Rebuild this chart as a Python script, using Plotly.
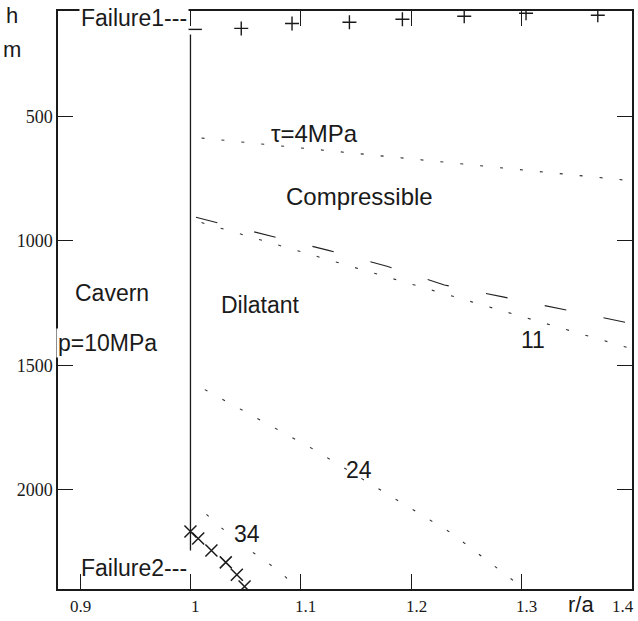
import plotly.graph_objects as go

# ---- data ----
r_tau = [1.01, 1.10, 1.20, 1.30, 1.40]
h_tau = [586, 626, 670, 714, 758]

r_bound = [1.005, 1.07, 1.125, 1.178, 1.23, 1.283, 1.337, 1.40]
h_bound = [905, 978, 1038, 1102, 1177, 1225, 1275, 1333]

r_11 = [1.01, 1.10, 1.20, 1.30, 1.40]
h_11 = [926, 1043, 1173, 1304, 1434]

r_24 = [1.013, 1.063, 1.111, 1.189, 1.236, 1.301]
h_24 = [1598, 1719, 1837, 2047, 2174, 2395]

r_34 = [1.0145, 1.028, 1.057, 1.072, 1.087, 1.091]
h_34 = [2100, 2154, 2254, 2301, 2355, 2395]

r_fail1 = [1.004, 1.046, 1.092, 1.144, 1.192, 1.248, 1.304, 1.369]
h_fail1 = [149, 145, 125, 120, 108, 96, 84, 92]

r_fail2 = [1.0, 1.007, 1.019, 1.032, 1.042, 1.049]
h_fail2 = [2169, 2197, 2245, 2293, 2343, 2390]

r_wall = [1.0, 1.0]
h_wall = [170, 2245]

x_ticks = [0.9, 1.0, 1.1, 1.2, 1.3, 1.4]
x_tick_text = ["0.9", "1", "1.1", "1.2", "1.3", "1.4"]
y_ticks = [500, 1000, 1500, 2000]

X_RANGE = [0.88, 1.4]
Y_RANGE = [2400, 75]

SANS = "Liberation Sans, Arial, sans-serif"
SERIF = "Liberation Serif, Times New Roman, serif"
INK = "#1a1a1a"

fig = go.Figure()

dotted = dict(color="#333", width=1.1, dash="3px,17px")
fig.add_trace(go.Scatter(x=r_tau, y=h_tau, mode="lines", line=dotted))
fig.add_trace(go.Scatter(x=r_11, y=h_11, mode="lines", line=dotted))
fig.add_trace(go.Scatter(x=r_24, y=h_24, mode="lines", line=dotted))
fig.add_trace(go.Scatter(x=r_34, y=h_34, mode="lines", line=dotted))
fig.add_trace(go.Scatter(x=r_bound, y=h_bound, mode="lines",
                         line=dict(color="#222", width=1.1, dash="22px,38px")))
fig.add_trace(go.Scatter(x=r_wall, y=h_wall, mode="lines",
                         line=dict(color=INK, width=1.3)))

sym1 = ["line-ew"] + ["cross-thin"] * (len(r_fail1) - 1)
fig.add_trace(go.Scatter(x=r_fail1, y=h_fail1, mode="markers", cliponaxis=True,
                         marker=dict(symbol=sym1, size=10,
                                     line=dict(color=INK, width=1.4))))
fig.add_trace(go.Scatter(x=r_fail2, y=h_fail2, mode="markers", cliponaxis=True,
                         marker=dict(symbol="x-thin", size=12,
                                     line=dict(color=INK, width=1.5))))

axis_common = dict(showline=True, linecolor=INK, linewidth=1.5, mirror="ticks",
                   ticks="inside", ticklen=15, tickwidth=1.3, tickcolor=INK,
                   showgrid=False, zeroline=False)

fig.update_xaxes(range=X_RANGE, tickvals=x_ticks, showticklabels=False,
                 **axis_common)
fig.update_yaxes(range=Y_RANGE, tickvals=y_ticks,
                 tickfont=dict(family=SERIF, size=18, color=INK),
                 **axis_common)


def to_paper(x, y):
    px = (x - X_RANGE[0]) / (X_RANGE[1] - X_RANGE[0])
    py = (y - Y_RANGE[0]) / (Y_RANGE[1] - Y_RANGE[0])
    return px, py


ann = []
def txt(x, y, s, size=23, xanchor="center", bg=None, family=SANS, **kw):
    xp, yp = to_paper(x, y)
    d = dict(x=xp, y=yp, xref="paper", yref="paper", text=s, showarrow=False,
             xanchor=xanchor, yanchor="middle",
             font=dict(family=family, size=size, color=INK))
    if bg:
        d["bgcolor"] = bg
    d.update(kw)
    ann.append(d)

txt(0.8385, 95, "h", size=22)
txt(0.8385, 231, "m", size=22)
txt(0.999, 103, "Failure1---", xanchor="right", bg="white")
txt(1.1122, 566, "τ=4MPa", size=24)
txt(1.153, 823, "Compressible", size=24)
txt(0.8935, 1209, "Cavern", xanchor="left")
txt(0.8785, 1410, "p=10MPa", xanchor="left", bg="white")
txt(1.0633, 1258, "Dilatant")
txt(1.31, 1398, "11")
txt(1.153, 1921, "24")
txt(1.0508, 2179, "34")
txt(0.999, 2316, "Failure2---", xanchor="right")
txt(1.354, 2464, "r/a", size=22)

for v, s in zip(x_ticks, x_tick_text):
    if v == 1.4:
        txt(v, 2472, s, size=17, family=SERIF, xanchor="right", xshift=4)
    elif v == 0.9:
        txt(v, 2472, s, size=17, family=SERIF)
    else:
        txt(v, 2472, s, size=17, family=SERIF, xshift=5)

fig.update_layout(width=638, height=621,
                  margin=dict(l=58, r=4, t=11, b=32),
                  plot_bgcolor="white", paper_bgcolor="white",
                  showlegend=False, annotations=ann)

fig.write_html("out.html")
